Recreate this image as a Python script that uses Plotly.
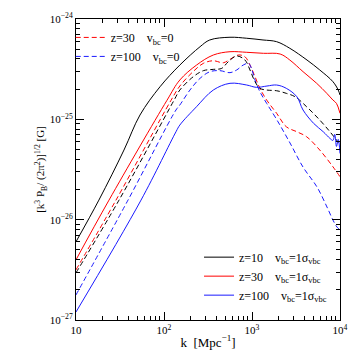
import numpy as np
import plotly.graph_objects as go

# ---- data (log10 k [Mpc^-1], log10 amplitude [G]) ----
logk_z10_v1 = [1.0, 1.26, 1.545, 1.727, 1.955, 2.18, 2.41, 2.52, 2.75, 2.94, 3.125, 3.28, 3.43, 3.625, 3.77, 3.92,
               3.98, 4.0]
logB_z10_v1 = [-26.22, -25.805, -25.306, -24.957, -24.675, -24.459, -24.276, -24.209, -24.182, -24.192, -24.209,
               -24.226, -24.292, -24.409, -24.508, -24.625, -24.708, -24.758]

logk_z30_v1 = [1.0, 1.375, 2.034, 2.18, 2.37, 2.56, 2.75, 2.94, 3.13, 3.32, 3.43, 3.58, 3.735, 3.85, 3.92, 3.96, 4.0]
logB_z30_v1 = [-26.40, -25.805, -24.81, -24.608, -24.459, -24.359, -24.326, -24.332, -24.342, -24.349, -24.409,
               -24.525, -24.641, -24.741, -24.808, -24.841, -24.94]

logk_z100_v1 = [1.0, 1.739, 2.136, 2.18, 2.37, 2.56, 2.75, 2.94, 3.05, 3.17, 3.28, 3.39, 3.51, 3.58, 3.70, 3.81,
                3.886, 3.92, 3.94, 3.96, 3.98, 4.0]
logB_z100_v1 = [-26.92, -25.805, -25.124, -25.057, -24.874, -24.708, -24.641, -24.658, -24.681, -24.668, -24.658,
                -24.691, -24.775, -24.907, -25.04, -25.124, -25.19, -25.21, -25.15, -25.27, -25.2, -25.34]

logk_z10_v0 = [1.0, 1.489, 2.114, 2.18, 2.333, 2.447, 2.56, 2.656, 2.73, 2.826, 2.92, 2.977, 3.034, 3.09, 3.167,
               3.28, 3.39, 3.49, 3.62, 3.77, 3.886, 3.96, 4.0]
logB_z10_v0 = [-26.53, -25.805, -24.81, -24.708, -24.575, -24.515, -24.502, -24.492, -24.426, -24.369, -24.409,
               -24.508, -24.625, -24.691, -24.708, -24.715, -24.741, -24.775, -24.874, -25.007, -25.124, -25.206,
               -25.256]

logk_z30_v0 = [1.0, 1.4545, 2.08, 2.18, 2.33, 2.447, 2.56, 2.674, 2.75, 2.845, 2.92, 2.977, 3.034, 3.09, 3.167,
               3.28, 3.39, 3.51, 3.62, 3.77, 3.92, 4.0]
logB_z30_v0 = [-26.50, -25.805, -24.81, -24.668, -24.525, -24.442, -24.416, -24.436, -24.402, -24.359, -24.376,
               -24.459, -24.575, -24.691, -24.808, -24.94, -25.074, -25.124, -25.173, -25.306, -25.473, -25.572]

logk_z100_v0 = [1.0, 1.591, 2.136, 2.18, 2.295, 2.41, 2.523, 2.636, 2.75, 2.826, 2.9, 2.96, 3.0, 3.034, 3.09,
                3.167, 3.284, 3.432, 3.58, 3.739, 3.852, 3.92, 3.966, 4.0]
logB_z100_v0 = [-26.75, -25.805, -24.907, -24.857, -24.708, -24.591, -24.525, -24.515, -24.535, -24.508, -24.459,
                -24.442, -24.508, -24.608, -24.725, -24.841, -25.007, -25.236, -25.476, -25.675, -25.874, -26.004,
                -26.074, -26.10]

x_tickvals = [10, 100, 1000, 10000]
x_ticktext = ["10", "10<sup>2</sup>", "10<sup>3</sup>", "10<sup>4</sup>"]
y_tickvals = [1e-27, 1e-26, 1e-25, 1e-24]
y_ticktext = ["10<sup>\u221227</sup>", "10<sup>\u221226</sup>", "10<sup>\u221225</sup>", "10<sup>\u221224</sup>"]

RED = "#ff0000"
BLUE = "#1a1aff"
BLACK = "#000000"
FONT = "Liberation Serif"

def p(a):
    return np.power(10.0, np.array(a))

fig = go.Figure()

line_opts = dict(width=1, shape="spline", smoothing=1.0)

# vbc = 0 (dashed)
fig.add_trace(go.Scatter(x=p(logk_z30_v0), y=p(logB_z30_v0), mode="lines",
                         line=dict(color=RED, dash="5px,3px", **line_opts),
                         name="z=30\u2002\u2002v<sub>bc</sub>=0", legend="legend"))
fig.add_trace(go.Scatter(x=p(logk_z100_v0), y=p(logB_z100_v0), mode="lines",
                         line=dict(color=BLUE, dash="5px,3px", **line_opts),
                         name="z=100\u2002\u2002v<sub>bc</sub>=0", legend="legend"))
fig.add_trace(go.Scatter(x=p(logk_z10_v0), y=p(logB_z10_v0), mode="lines",
                         line=dict(color=BLACK, dash="5px,3px", **line_opts),
                         name="z=10 vbc=0", showlegend=False))

# vbc = 1 sigma (solid)
sig = "v<sub>bc</sub>=1\u03c3<sub>vbc</sub>"
fig.add_trace(go.Scatter(x=p(logk_z10_v1), y=p(logB_z10_v1), mode="lines",
                         line=dict(color=BLACK, **line_opts),
                         name="z=10\u2002\u2002" + sig, legend="legend2"))
fig.add_trace(go.Scatter(x=p(logk_z30_v1), y=p(logB_z30_v1), mode="lines",
                         line=dict(color=RED, **line_opts),
                         name="z=30\u2002\u2002" + sig, legend="legend2"))
fig.add_trace(go.Scatter(x=p(logk_z100_v1), y=p(logB_z100_v1), mode="lines",
                         line=dict(color=BLUE, **line_opts),
                         name="z=100\u2002\u2002" + sig, legend="legend2"))

minor_x = [m * 10 ** d for d in range(1, 4) for m in range(2, 10)]
minor_y = [m * 10.0 ** d for d in range(-27, -24) for m in range(2, 10)]

axis_common = dict(type="log", showgrid=False, zeroline=False, showline=True, linecolor="black", linewidth=1,
                   mirror="allticks", ticks="inside", ticklen=8, tickwidth=1, tickcolor="black", automargin=False,
                   tickfont=dict(family=FONT, size=11, color="black"))

fig.update_xaxes(**axis_common, range=[1, 4], tickvals=x_tickvals, ticktext=x_ticktext,
                 minor=dict(tickvals=minor_x, ticks="inside", ticklen=4, tickcolor="black", showgrid=False),
                 title=dict(text="k  [Mpc<sup>\u22121</sup>]", font=dict(family=FONT, size=13, color="black"),
                            standoff=2))
fig.update_yaxes(**axis_common, range=[-27, -24], tickvals=y_tickvals, ticktext=y_ticktext,
                 minor=dict(tickvals=minor_y, ticks="inside", ticklen=4, tickcolor="black", showgrid=False),
                 title=dict(text="[k<sup>3</sup> P<sub>B</sub>/ (2\u03c0<sup>2</sup>)]<sup>1/2</sup> [G]",
                            font=dict(family=FONT, size=11, color="black"), standoff=2))

# the page body has an 8px default margin; the figure is sized so the plot box lands where the reference has it
fig.update_layout(
    width=351, height=351,
    margin=dict(l=68, r=19, t=11, b=39),
    paper_bgcolor="white", plot_bgcolor="white",
    font=dict(family=FONT, size=12, color="black"),
    legend=dict(x=-0.02, y=0.987, xanchor="left", yanchor="top", bgcolor="rgba(0,0,0,0)",
                font=dict(family=FONT, size=12), itemwidth=30, tracegroupgap=0),
    legend2=dict(x=0.466, y=0.257, xanchor="left", yanchor="top", bgcolor="rgba(0,0,0,0)",
                 font=dict(family=FONT, size=12), itemwidth=30, tracegroupgap=0),
)

fig.write_html("out.html")
